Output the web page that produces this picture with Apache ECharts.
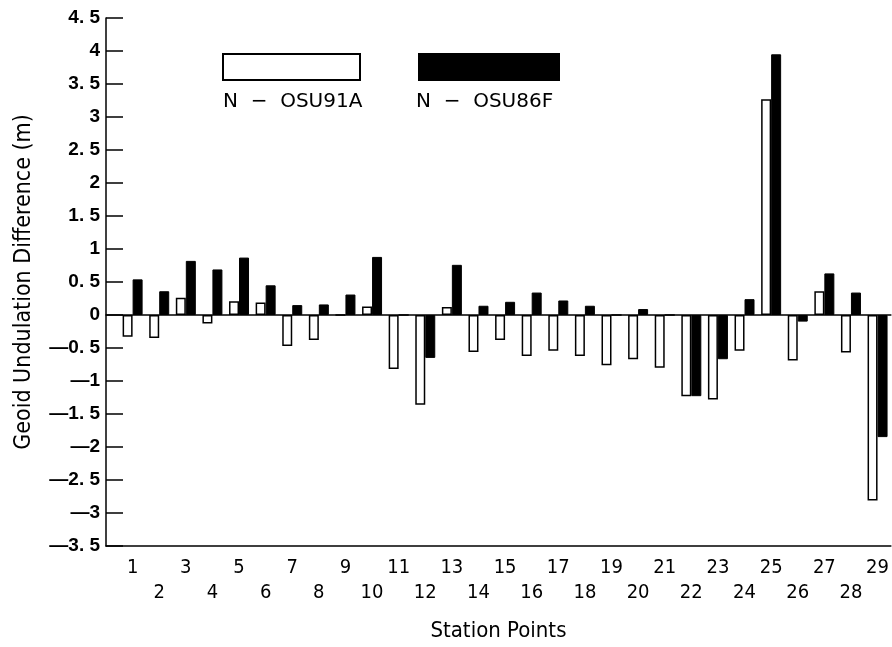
<!DOCTYPE html>
<html>
<head>
<meta charset="utf-8">
<title>Geoid Undulation Difference</title>
<style>
html, body { margin: 0; padding: 0; background: #fff; }
#chart { width: 892px; height: 647px; }
</style>
</head>
<body>
<div id="chart"></div>
<script src="https://cdn.jsdelivr.net/npm/echarts@6/dist/echarts.min.js"></script>
<script>
// station numbers 1..29
var stations = [1,2,3,4,5,6,7,8,9,10,11,12,13,14,15,16,17,18,19,20,21,22,23,24,25,26,27,28,29];
// N - OSU91A (white bars)
var osu91a = [-0.33,-0.35,0.26,-0.13,0.21,0.19,-0.47,-0.38,0.0,0.13,
              -0.82,-1.36,0.12,-0.56,-0.38,-0.62,-0.54,-0.62,-0.76,-0.67,
              -0.80,-1.23,-1.28,-0.54,3.27,-0.69,0.36,-0.57,-2.81];
// N - OSU86F (black bars)
var osu86f = [0.54,0.36,0.82,0.69,0.87,0.45,0.15,0.16,0.31,0.88,
              0.0,-0.65,0.76,0.14,0.20,0.34,0.22,0.14,0.0,0.09,
              0.0,-1.23,-0.67,0.24,3.95,-0.10,0.63,0.34,-1.85];
var legendNames = ['N − OSU91A', 'N − OSU86F'];

var narrow = "'Liberation Sans Narrow', 'DejaVu Sans Condensed', sans-serif";
var chart = echarts.init(document.getElementById('chart'));

function pairs(vals) {
  return stations.map(function (s, i) { return [s, vals[i]]; });
}

var option = {
  backgroundColor: '#fff',
  animation: false,
  grid: { left: 106, top: 18, right: 0, bottom: 101 },
  legend: [
    { left: 222, top: 53, padding: 0, itemWidth: 137, itemHeight: 26, icon: 'rect',
      data: [legendNames[0]], formatter: function () { return ''; }, selectedMode: false },
    { left: 418, top: 53, padding: 0, itemWidth: 140, itemHeight: 26, icon: 'rect',
      data: [legendNames[1]], formatter: function () { return ''; }, selectedMode: false }
  ],
  graphic: [
    { type: 'text', left: 223, top: 92,
      style: { text: 'N  −  OSU91A', font: "20px 'DejaVu Sans', sans-serif", fill: '#000' } },
    { type: 'text', left: 416, top: 92,
      style: { text: 'N  −  OSU86F', font: "20px 'DejaVu Sans', sans-serif", fill: '#000' } }
  ],
  xAxis: [{
    type: 'value', min: 0, max: 29.5, interval: 1,
    name: 'Station Points', nameLocation: 'middle', nameGap: 74,
    nameTextStyle: { fontSize: 22, fontFamily: narrow, color: '#000' },
    axisLine: { show: true, onZero: false, lineStyle: { color: '#000', width: 1.5 } },
    axisTick: { show: false },
    splitLine: { show: false },
    axisLabel: {
      color: '#000', fontSize: 20, fontFamily: narrow, margin: 9, lineHeight: 25,
      showMinLabel: false, showMaxLabel: false,
      formatter: function (v) {
        if (v < 1 || v > 29 || v % 1 !== 0) return '';
        return v % 2 ? String(v) : '\n' + v;
      }
    }
  }, {
    type: 'value', position: 'top', min: 0, max: 29.5,
    axisLine: { show: true, lineStyle: { color: '#000', width: 1.5 } },
    axisTick: { show: false }, axisLabel: { show: false }, splitLine: { show: false }
  }],
  yAxis: {
    type: 'value', min: -3.5, max: 4.5, interval: 0.5,
    name: 'Geoid Undulation Difference (m)', nameLocation: 'middle', nameGap: 70,
    nameTextStyle: { fontSize: 23, fontFamily: narrow, color: '#000' },
    axisLine: { show: true, lineStyle: { color: '#000', width: 1.5 } },
    axisTick: { show: true, inside: true, length: 17, lineStyle: { color: '#000', width: 1.5 } },
    splitLine: { show: false },
    axisLabel: {
      color: '#000', fontSize: 19, fontWeight: 'bold',
      fontFamily: "'Liberation Sans', sans-serif", margin: 6,
      formatter: function (v) {
        var a = Math.abs(v);
        var s = a % 1 === 0 ? String(a) : Math.floor(a) + '. 5';
        return v < 0 ? '—' + s : s;
      }
    }
  },
  series: [{
    name: legendNames[0], type: 'bar', barWidth: 10, barGap: '0%',
    itemStyle: { color: '#fff', borderColor: '#000', borderWidth: 1.5 },
    data: pairs(osu91a)
  }, {
    name: legendNames[1], type: 'bar', barWidth: 10, barGap: '0%',
    itemStyle: { color: '#000', borderColor: '#000', borderWidth: 1 },
    data: pairs(osu86f)
  }]
};
chart.setOption(option);
</script>
</body>
</html>
